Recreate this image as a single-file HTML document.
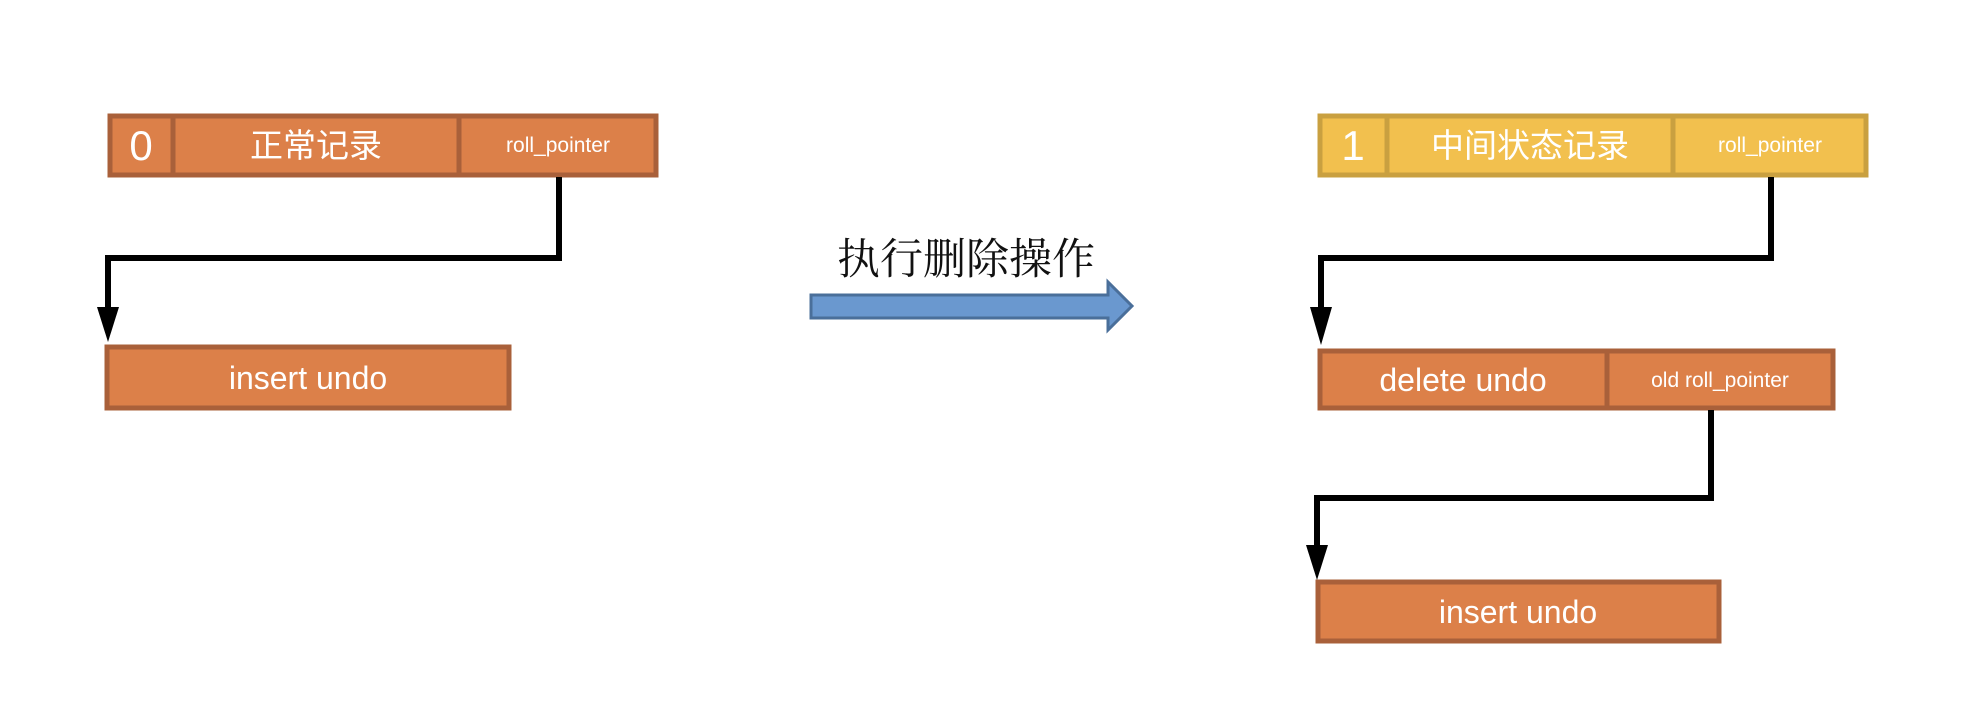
<!DOCTYPE html>
<html><head><meta charset="utf-8"><style>
html,body{margin:0;padding:0;background:#fff;}
svg{display:block;}
text{font-family:"Liberation Sans","Noto Sans CJK SC",sans-serif;fill:#fff;}
</style></head><body>
<svg width="1984" height="724" viewBox="0 0 1984 724" xmlns="http://www.w3.org/2000/svg">
<g stroke="#a9603a" stroke-width="5" fill="#dc8049">
<rect x="110" y="116" width="546" height="59"/>
<line x1="173" y1="116" x2="173" y2="175"/>
<line x1="459" y1="116" x2="459" y2="175"/>
<rect x="107" y="347" width="402" height="61"/>
<rect x="1320" y="351" width="513" height="57"/>
<line x1="1607" y1="351" x2="1607" y2="408"/>
<rect x="1318" y="582" width="401" height="59"/>
</g>
<g stroke="#c9a040" stroke-width="5" fill="#f2c04e">
<rect x="1320" y="116" width="546" height="59"/>
<line x1="1387" y1="116" x2="1387" y2="175"/>
<line x1="1673" y1="116" x2="1673" y2="175"/>
</g>
<g stroke="#000" stroke-width="6" fill="none">
<polyline points="559,177 559,258 108,258 108,310"/>
<polyline points="1771,177 1771,258 1321,258 1321,310"/>
<polyline points="1711,410 1711,498 1317,498 1317,548"/>
</g>
<g fill="#000">
<polygon points="97,307 119,307 108,342"/>
<polygon points="1310,307 1332,307 1321,345"/>
<polygon points="1306,545 1328,545 1317,580"/>
</g>
<text x="141" y="160" font-size="42" text-anchor="middle">0</text>
<text x="316" y="157" font-size="33" text-anchor="middle">正常记录</text>
<text x="558" y="152" font-size="21" text-anchor="middle">roll_pointer</text>
<text x="308" y="389" font-size="32" text-anchor="middle">insert undo</text>
<text x="1353" y="160" font-size="42" text-anchor="middle">1</text>
<text x="1530" y="157" font-size="33" text-anchor="middle">中间状态记录</text>
<text x="1770" y="152" font-size="21" text-anchor="middle">roll_pointer</text>
<text x="1463" y="391" font-size="32" text-anchor="middle">delete undo</text>
<text x="1720" y="387" font-size="21" text-anchor="middle">old roll_pointer</text>
<text x="1518" y="623" font-size="32" text-anchor="middle">insert undo</text>
<polygon points="811,295 1108,295 1108,282 1132,306 1108,330 1108,318 811,318" fill="#6a98cf" stroke="#4a6f9a" stroke-width="3"/>
<text x="966" y="274" font-size="43" text-anchor="middle" style="font-family:'Noto Serif CJK SC',serif;fill:#111">执行删除操作</text>
</svg>
</body></html>
